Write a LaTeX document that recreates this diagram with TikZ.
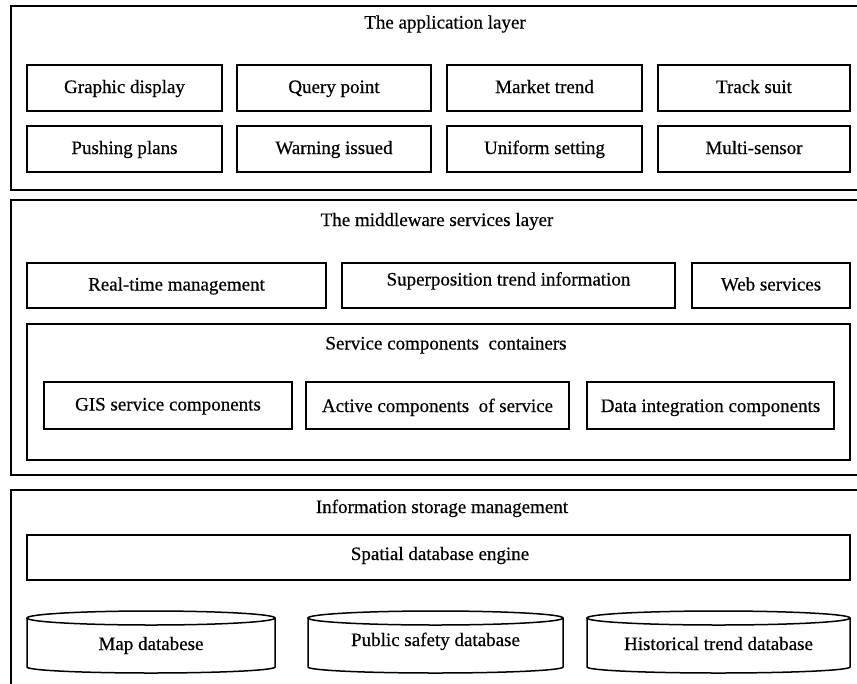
\documentclass[tikz,border=0pt]{standalone}
\usepackage{fontspec}
\setmainfont{Liberation Serif}[FakeBold=0.5]
\begin{document}
\begin{tikzpicture}[x=1pt,y=-1pt,
  every node/.style={font=\fontsize{19}{22}\selectfont, inner sep=0pt},
  box/.style={draw, line width=1.8pt, rectangle, text height=14pt, text depth=4pt},
  frame/.style={draw, line width=1.8pt},
  title/.style={anchor=base}
]
\useasboundingbox (0,0) rectangle (857,683);

% ---------- application layer ----------
\draw[frame] (857,6) -- (11,6) -- (11,190) -- (857,190);
\node[title] (apptitle) at (445,28.5) {The application layer};
\node[box, minimum width=195, minimum height=46] (gd) at (124.5,88) {Graphic display};
\node[box, minimum width=194, minimum height=46] (qp) at (334,88) {Query point};
\node[box, minimum width=195, minimum height=46] (mt) at (544.5,88) {Market trend};
\node[box, minimum width=192, minimum height=46] (ts) at (754,88) {Track suit};
\node[box, minimum width=195, minimum height=46] (pp) at (124.5,149) {Pushing plans};
\node[box, minimum width=194, minimum height=46] (wi) at (334,149) {Warning issued};
\node[box, minimum width=195, minimum height=46] (us) at (544.5,149) {Uniform setting};
\node[box, minimum width=192, minimum height=46] (ms) at (754,149) {Multi-sensor};

% ---------- middleware services layer ----------
\draw[frame] (857,200) -- (11,200) -- (11,475) -- (857,475);
\node[title] (midtitle) at (437,226) {The middleware services layer};
\node[box, minimum width=299, minimum height=45] (rt) at (176.5,285.5) {Real-time management};
\node[box, minimum width=333, minimum height=45, text height=12pt, text depth=12pt] (sp) at (508.5,285.5) {Superposition trend information};
\node[box, minimum width=158, minimum height=45] (ws) at (771,285.5) {Web services};

\node[box, minimum width=823, minimum height=136] (sc) at (438.5,392) {};
\node[title] (sctitle) at (446,349.5) {Service components\ \ containers};
\node[box, minimum width=248, minimum height=47] (gis) at (168,405.5) {GIS service components};
\node[box, minimum width=263, minimum height=47, text height=15pt, text depth=2pt] (act) at (437.5,405.5) {Active components\ \ of service};
\node[box, minimum width=247, minimum height=47, text height=15pt, text depth=2pt] (dic) at (710.5,405.5) {Data integration components};

% ---------- information storage management ----------
\draw[frame] (857,490) -- (11,490) -- (11,690);
\node[title] (isttitle) at (442,513) {Information storage management};
\node[box, minimum width=823, minimum height=45] (sde) at (438.5,557.5) {};
\node[title] (sdetext) at (440,560) {Spatial database engine};

% cylinders
\foreach \nm/\L/\R/\ty/\txt in {map/27/275/650/Map databese, pub/308/563/646/Public safety database, hist/587/850/650/Historical trend database}{
  \pgfmathsetmacro{\cx}{(\L+\R)/2}
  \pgfmathsetmacro{\rx}{(\R-\L)/2}
  \draw[line width=1.5pt] (\cx,618) ellipse [x radius=\rx pt, y radius=7pt];
  \draw[line width=1.5pt] (\L,618) -- (\L,667) arc[start angle=180, end angle=360, x radius=\rx pt, y radius=6pt] -- (\R,618);
  \node[anchor=base] (\nm) at (\cx,\ty) {\txt};
}
\end{tikzpicture}
\end{document}
